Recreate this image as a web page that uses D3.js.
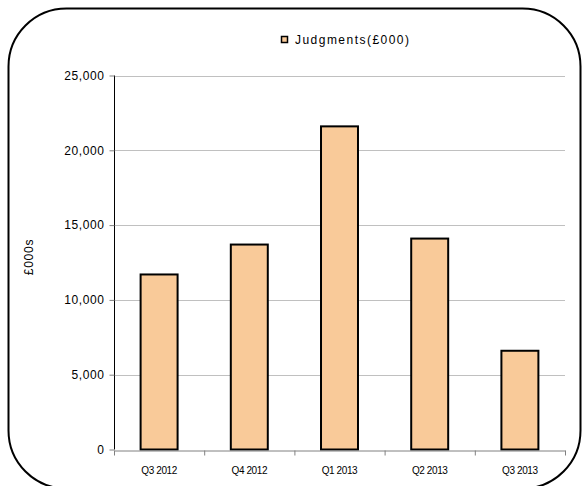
<!DOCTYPE html>
<html>
<head>
<meta charset="utf-8">
<script src="https://cdn.jsdelivr.net/npm/d3@7"></script>
<style>
  html, body { margin: 0; padding: 0; background: #fff; }
  svg { display: block; }
  text { font-family: "Liberation Sans", Arial, sans-serif; fill: #000; }
</style>
</head>
<body>
<svg id="chart" width="584" height="486"></svg>
<script>
const categories = ["Q3 2012", "Q4 2012", "Q1 2013", "Q2 2013", "Q3 2013"];
const judgments = [11700, 13700, 21600, 14100, 6600];
const yTicks = [0, 5000, 10000, 15000, 20000, 25000];
const seriesName = "Judgments(£000)";
const yTitle = "£000s";

(function () {
const svg = d3.select("#chart");
const mLeft = 114, mRight = 565, mTop = 75.5, mBottom = 449.5;

// outer rounded border
svg.append("rect")
  .attr("x", 8.5).attr("y", 8.5).attr("width", 572).attr("height", 480)
  .attr("rx", 58).attr("ry", 58)
  .attr("fill", "#fff").attr("stroke", "#000").attr("stroke-width", 2);

const x = d3.scaleBand().domain(categories).range([mLeft, mRight])
  .paddingInner(0.59).paddingOuter(0.295);
const xEdges = d3.scaleLinear().domain([0, categories.length]).range([mLeft, mRight]);
const y = d3.scaleLinear().domain([0, 25000]).range([mBottom, mTop]);

// gridlines
svg.append("g").selectAll("line").data(yTicks.filter(d => d > 0)).join("line")
  .attr("x1", mLeft).attr("x2", mRight)
  .attr("y1", d => Math.round(y(d)) + 0.5).attr("y2", d => Math.round(y(d)) + 0.5)
  .attr("stroke", "#c0c0c0").attr("stroke-width", 1);

// y axis
const yAxis = svg.append("g").attr("transform", `translate(${mLeft + 0.5},0)`)
  .call(d3.axisLeft(y).tickValues(yTicks).tickFormat(d3.format(",")).tickSize(5).tickPadding(5));
yAxis.select(".domain").attr("stroke", "#000").attr("d", `M0,${mTop}V${mBottom}`);
yAxis.selectAll(".tick line").attr("stroke", "#808080");
yAxis.selectAll(".tick text").attr("font-size", 12).style("letter-spacing", "0.6px")
  .attr("font-family", "Liberation Sans, Arial, sans-serif").attr("fill", "#000");

// bars
svg.append("g").selectAll("rect").data(judgments).join("rect")
  .attr("x", (d, i) => x(categories[i]))
  .attr("y", d => y(d))
  .attr("width", x.bandwidth())
  .attr("height", d => y(0) - y(d))
  .attr("fill", "#F9CA99").attr("stroke", "#000").attr("stroke-width", 2);

// x axis
const xAxis = svg.append("g").attr("transform", `translate(0,${Math.round(mBottom) + 0.5})`)
  .call(d3.axisBottom(xEdges).tickValues(d3.range(categories.length + 1)).tickFormat("").tickSize(5).tickSizeOuter(0));
xAxis.select(".domain").attr("stroke", "#808080");
xAxis.selectAll(".tick line").attr("stroke", "#808080");

svg.append("g").selectAll("text").data(categories).join("text")
  .attr("x", d => x(d) + x.bandwidth() / 2)
  .attr("y", 474)
  .attr("text-anchor", "middle")
  .attr("font-size", 10)
  .style("letter-spacing", "-0.4px")
  .text(d => d);

// y title
svg.append("text")
  .attr("transform", "translate(33,257) rotate(-90)")
  .attr("text-anchor", "middle")
  .attr("font-size", 12)
  .style("letter-spacing", "0.8px")
  .text(yTitle);

// legend
svg.append("rect").attr("x", 281.5).attr("y", 36.5).attr("width", 6).attr("height", 6)
  .attr("fill", "#F9CA99").attr("stroke", "#000").attr("stroke-width", 1.5);
svg.append("text").attr("x", 295).attr("y", 43.5).attr("font-size", 12)
  .attr("textLength", 114).attr("lengthAdjust", "spacing")
  .text(seriesName);
})();
</script>
</body>
</html>
